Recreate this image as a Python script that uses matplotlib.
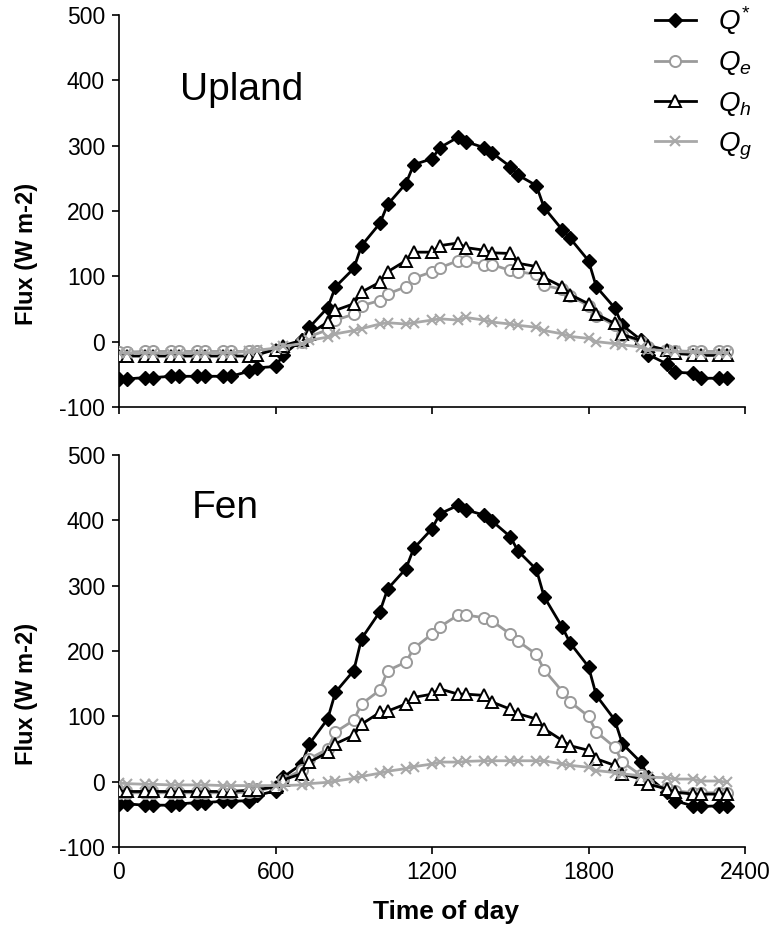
import matplotlib
matplotlib.use('Agg')
import matplotlib.pyplot as plt

plt.rcParams['font.family'] = ['Liberation Sans', 'DejaVu Sans']
plt.rcParams['mathtext.fontset'] = 'custom'
plt.rcParams['mathtext.it'] = 'Liberation Sans:italic'
plt.rcParams['mathtext.rm'] = 'Liberation Sans'
plt.rcParams['mathtext.bf'] = 'Liberation Sans:bold'
plt.rcParams['axes.unicode_minus'] = False

# Time of day (HHMM)
TIME = [0, 30, 100, 130, 200, 230, 300, 330, 400, 430, 500, 530,
        600, 630, 700, 730, 800, 830, 900, 930, 1000, 1030, 1100, 1130,
        1200, 1230, 1300, 1330, 1400, 1430, 1500, 1530, 1600, 1630, 1700, 1730,
        1800, 1830, 1900, 1930, 2000, 2030, 2100, 2130, 2200, 2230, 2300, 2330]

# Upland fluxes (W m-2)
UP_QSTAR = [-57, -57, -55, -55, -53, -53, -53, -53, -53, -53, -45, -40,
            -38, -20, 3, 22, 52, 84, 112, 147, 181, 210, 242, 271,
            280, 297, 313, 306, 297, 289, 268, 255, 239, 205, 171, 158,
            124, 84, 52, 25, 3, -20, -34, -47, -48, -56, -56, -56]
UP_QE = [-16, -16, -15, -15, -15, -15, -15, -15, -15, -15, -15, -14,
         -12, -8, 0, 8, 18, 33, 42, 55, 63, 73, 84, 97,
         107, 113, 124, 124, 118, 118, 109, 107, 103, 86, 80, 70,
         55, 40, 25, 10, 0, -8, -12, -14, -15, -15, -15, -15]
UP_QH = [-22, -22, -22, -22, -22, -22, -22, -22, -22, -22, -22, -20,
         -12, -6, 2, 12, 30, 48, 58, 76, 91, 107, 124, 137,
         137, 147, 151, 144, 140, 136, 135, 120, 115, 98, 84, 72,
         58, 42, 28, 11, 2, -6, -13, -18, -20, -21, -21, -21]
UP_QG = [-17, -17, -17, -17, -17, -17, -17, -17, -17, -17, -15, -13,
         -10, -7, -3, 2, 7, 12, 17, 20, 27, 29, 27, 29,
         33, 35, 33, 37, 33, 30, 27, 25, 22, 17, 12, 8,
         5, 0, -3, -5, -8, -12, -14, -15, -16, -17, -17, -17]

# Fen fluxes (W m-2)
FEN_QSTAR = [-34, -34, -36, -36, -36, -34, -32, -32, -30, -30, -29, -21,
             -14, 7, 27, 58, 96, 137, 170, 219, 260, 295, 326, 357,
             387, 410, 423, 416, 408, 399, 375, 353, 325, 283, 236, 212,
             176, 132, 95, 58, 30, 7, -16, -29, -37, -38, -37, -37]
FEN_QE = [-17, -17, -17, -17, -17, -17, -17, -17, -17, -17, -16, -14,
          -8, 3, 18, 35, 50, 76, 94, 119, 140, 170, 183, 204,
          226, 237, 255, 255, 251, 246, 226, 215, 195, 171, 138, 122,
          100, 76, 53, 30, 10, -3, -10, -14, -17, -17, -17, -17]
FEN_QH = [-15, -15, -15, -15, -15, -15, -15, -15, -15, -15, -13, -12,
          -8, 3, 12, 30, 45, 58, 71, 88, 106, 108, 119, 129,
          134, 142, 134, 134, 132, 122, 111, 104, 96, 81, 63, 55,
          48, 35, 25, 12, 4, -4, -11, -16, -19, -19, -19, -19]
FEN_QG = [-2, -3, -4, -4, -5, -5, -5, -5, -6, -6, -6, -6,
          -6, -6, -5, -3, -1, 1, 5, 8, 13, 16, 20, 23,
          27, 30, 30, 31, 32, 32, 32, 32, 32, 32, 27, 25,
          22, 17, 14, 12, 9, 7, 6, 4, 4, 1, 1, -1]

LABELS = [r'$Q^{*}$', r'$Q_e$', r'$Q_h$', r'$Q_g$']
PANELS = ['Upland', 'Fen']
YTICKS = [-100, 0, 100, 200, 300, 400, 500]
XTICKS = [0, 600, 1200, 1800, 2400]

GRAY = '#9a9a9a'
GRAY2 = '#a8a8a8'

fig = plt.figure(figsize=(7.75, 9.39), dpi=100)
ax1 = fig.add_axes([119 / 775, 1 - 407 / 939, 626 / 775, 392 / 939])
ax2 = fig.add_axes([119 / 775, 1 - 847 / 939, 626 / 775, 392 / 939])


def draw(ax, qs, qe, qh, qg):
    h1, = ax.plot(TIME, qs, color='black', lw=2.0, marker='D', markersize=7.5,
                  markerfacecolor='black', markeredgecolor='black', zorder=3)
    h2, = ax.plot(TIME, qe, color=GRAY, lw=2.0, marker='o', markersize=8,
                  markerfacecolor='white', markeredgecolor=GRAY, markeredgewidth=1.4, zorder=3)
    h3, = ax.plot(TIME, qh, color='black', lw=2.0, marker='^', markersize=8,
                  markerfacecolor='white', markeredgecolor='black', markeredgewidth=1.4, zorder=4)
    h4, = ax.plot(TIME, qg, color=GRAY2, lw=2.0, marker='x', markersize=7,
                  markeredgecolor=GRAY2, markeredgewidth=1.5, zorder=5)
    ax.set_xlim(0, 2400)
    ax.set_ylim(-100, 500)
    ax.set_xticks(XTICKS)
    ax.set_yticks(YTICKS)
    for s in ['top', 'right']:
        ax.spines[s].set_visible(False)
    for s in ['left', 'bottom']:
        ax.spines[s].set_linewidth(1.2)
    ax.tick_params(direction='out', length=5, width=1.2, labelsize=16.5, pad=5)
    ax.set_ylabel('Flux (W m-2)', fontsize=17, fontweight='bold')
    ax.yaxis.set_label_coords(-0.13, 0.39)
    return [h1, h2, h3, h4]


handles = draw(ax1, UP_QSTAR, UP_QE, UP_QH, UP_QG)
draw(ax2, FEN_QSTAR, FEN_QE, FEN_QH, FEN_QG)
ax1.tick_params(labelbottom=False)

ax1.text(0.097, 0.783, PANELS[0], transform=ax1.transAxes, fontsize=28,
         ha='left', va='baseline')
ax2.text(0.116, 0.839, PANELS[1], transform=ax2.transAxes, fontsize=28,
         ha='left', va='baseline')

ax1.legend(handles, LABELS, loc='upper right', bbox_to_anchor=(752 / 775, 1 - 4 / 939),
           bbox_transform=fig.transFigure, frameon=False, fontsize=20,
           handlelength=1.45, handletextpad=0.8, labelspacing=0.45,
           borderpad=0, borderaxespad=0)

fig.text(446 / 775, 1 - 912 / 939, 'Time of day', ha='center', va='center',
         fontsize=19, fontweight='bold')

fig.savefig('out.png', dpi=100)
